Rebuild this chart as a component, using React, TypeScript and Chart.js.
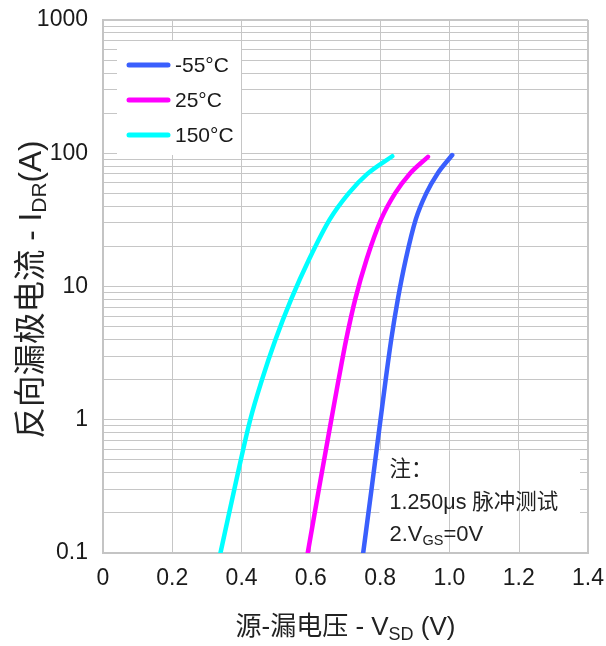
import React, { useEffect, useRef } from "react";
import { Chart, registerables } from "chart.js";

Chart.register(...registerables);

// ---------- data ----------
const seriesLabels = ["-55°C", "25°C", "150°C"];
const seriesColors = ["#3a5ffd", "#ff00ff", "#00ffff"];

const vM55 = [0.751, 0.775, 0.801, 0.816, 0.832, 0.851, 0.874, 0.903, 0.933, 0.965, 1.008];
const iM55 = [0.1, 0.3, 1, 2, 4, 8, 16, 32, 50, 70, 97];

const v25 = [0.591, 0.623, 0.659, 0.68, 0.702, 0.728, 0.761, 0.803, 0.843, 0.885, 0.938];
const i25 = [0.1, 0.3, 1, 2, 4, 8, 16, 32, 50, 70, 94];

const v150 = [0.339, 0.379, 0.425, 0.459, 0.498, 0.543, 0.595, 0.655, 0.709, 0.763, 0.835];
const i150 = [0.1, 0.3, 1, 2, 4, 8, 16, 32, 50, 70, 95];

const xTickValues = [0, 0.2, 0.4, 0.6, 0.8, 1.0, 1.2, 1.4];
const yDecades = [0.1, 1, 10, 100];
const yMinorSteps = [1, 2, 3, 4, 5, 6, 7, 8, 9];
const yMax = 1000;

const xTitleParts = ["源-漏电压 - V", "SD", " (V)"];
const yTitleParts = ["反向漏极电流 - I", "DR", "(A)"];
const noteLine1 = "注：";
const noteLine2 = "1.250μs 脉冲测试";
const noteLine3Parts = ["2.V", "GS", "=0V"];

// ---------- styles ----------
const FONT = '"Liberation Sans", Arial, "Noto Sans CJK SC", sans-serif';
const GRID = "#c6c6c6";
const TEXT = "#1a1a1a";

function drawSubText(
  ctx: CanvasRenderingContext2D,
  parts: string[],
  cx: number,
  y: number,
  size: number,
  subSize: number,
  subShift: number
) {
  const main = `${size}px ${FONT}`;
  const sub = `${subSize}px ${FONT}`;
  ctx.font = main;
  const w0 = ctx.measureText(parts[0]).width;
  const w2 = ctx.measureText(parts[2]).width;
  ctx.font = sub;
  const w1 = ctx.measureText(parts[1]).width;
  const total = w0 + w1 + w2;
  let x = cx - total / 2;
  ctx.textAlign = "left";
  ctx.textBaseline = "alphabetic";
  ctx.font = main;
  ctx.fillText(parts[0], x, y);
  x += w0;
  ctx.font = sub;
  ctx.fillText(parts[1], x, y + subShift);
  x += w1;
  ctx.font = main;
  ctx.fillText(parts[2], x, y);
}

function drawSubTextLeft(
  ctx: CanvasRenderingContext2D,
  parts: string[],
  x: number,
  y: number,
  size: number,
  subSize: number,
  subShift: number
) {
  const main = `${size}px ${FONT}`;
  const sub = `${subSize}px ${FONT}`;
  ctx.textAlign = "left";
  ctx.textBaseline = "alphabetic";
  ctx.font = main;
  ctx.fillText(parts[0], x, y);
  x += ctx.measureText(parts[0]).width;
  ctx.font = sub;
  ctx.fillText(parts[1], x, y + subShift);
  x += ctx.measureText(parts[1]).width;
  ctx.font = main;
  ctx.fillText(parts[2], x, y);
}

const overlayPlugin = {
  id: "overlay",
  beforeDatasetsDraw(chart: any) {
    const ctx: CanvasRenderingContext2D = chart.ctx;
    const a = chart.chartArea;
    const xs = chart.scales.x;
    const ys = chart.scales.y;
    ctx.save();
    // legend box
    ctx.fillStyle = "#ffffff";
    const lx = a.left + 14;
    const ly = a.top + 21;
    ctx.fillRect(lx, ly, 124, 114);
    // note box
    const nTop = ys.getPixelForValue(0.6) + 1;
    const nLeft = xs.getPixelForValue(0.798);
    ctx.fillRect(nLeft, nTop, a.right - 8 - nLeft, a.bottom - nTop - 1);
    // vertical grid lines over note box
    ctx.strokeStyle = GRID;
    ctx.lineWidth = 1;
    [1.0, 1.2].forEach((v) => {
      const x = Math.round(xs.getPixelForValue(v)) + 0.5;
      ctx.beginPath();
      ctx.moveTo(x, nTop);
      ctx.lineTo(x, a.bottom);
      ctx.stroke();
    });
    // legend entries
    ctx.lineCap = "round";
    ctx.lineWidth = 5;
    ctx.font = `21px ${FONT}`;
    ctx.textBaseline = "middle";
    ctx.textAlign = "left";
    seriesLabels.forEach((lab, i) => {
      const y = ly + 24 + i * 35;
      ctx.strokeStyle = seriesColors[i];
      ctx.beginPath();
      ctx.moveTo(lx + 12, y);
      ctx.lineTo(lx + 51, y);
      ctx.stroke();
      ctx.fillStyle = TEXT;
      ctx.fillText(lab, lx + 58, y + 1);
    });
    // note text
    ctx.fillStyle = "#222";
    ctx.font = `21.5px ${FONT}`;
    ctx.textBaseline = "middle";
    const tx = nLeft + 10;
    ctx.fillText(noteLine1, tx, nTop + 20);
    ctx.fillText(noteLine2, tx, nTop + 53);
    drawSubTextLeft(ctx, noteLine3Parts, tx, nTop + 91, 22, 14.5, 4);
    ctx.restore();
  },
  afterDraw(chart: any) {
    const ctx: CanvasRenderingContext2D = chart.ctx;
    const a = chart.chartArea;
    ctx.save();
    ctx.fillStyle = "#222";
    // x title
    drawSubText(ctx, xTitleParts, (a.left + a.right) / 2, 635, 26, 18, 5);
    // y title (rotated)
    ctx.translate(41, (a.top + a.bottom) / 2 + 3);
    ctx.rotate(-Math.PI / 2);
    drawSubText(ctx, yTitleParts, 0, 0, 31.5, 21, 5);
    ctx.restore();
  },
};

function buildDataset(label: string, color: string, xs: number[], ys: number[]) {
  return {
    label,
    data: xs.map((x, i) => ({ x, y: ys[i] })),
    borderColor: color,
    backgroundColor: color,
    borderWidth: 4.5,
    borderCapStyle: "round" as const,
    pointRadius: 0,
    cubicInterpolationMode: "monotone" as const,
    fill: false,
  };
}

export default function App() {
  const ref = useRef<HTMLCanvasElement | null>(null);

  useEffect(() => {
    if (!ref.current) return;
    const yTicks: number[] = [];
    yDecades.forEach((d) =>
      yMinorSteps.forEach((k) => yTicks.push(Number((k * d).toPrecision(3))))
    );
    yTicks.push(yMax);

    const chart = new Chart(ref.current, {
      type: "line",
      data: {
        datasets: [
          buildDataset(seriesLabels[0], seriesColors[0], vM55, iM55),
          buildDataset(seriesLabels[1], seriesColors[1], v25, i25),
          buildDataset(seriesLabels[2], seriesColors[2], v150, i150),
        ],
      },
      options: {
        responsive: false,
        animation: false,
        layout: { padding: { left: 0, right: 18, top: 20, bottom: 0 } },
        plugins: {
          legend: { display: false },
          tooltip: { enabled: false },
          title: { display: false },
        },
        scales: {
          x: {
            type: "linear",
            min: 0,
            max: 1.4,
            afterBuildTicks: (scale: any) => {
              scale.ticks = xTickValues.map((v) => ({ value: v }));
            },
            afterFit: (scale: any) => {
              scale.height = 93;
              scale.paddingLeft = 0;
              scale.paddingRight = 0;
            },
            ticks: {
              autoSkip: false,
              maxRotation: 0,
              padding: 12,
              color: TEXT,
              font: { family: FONT, size: 23 },
              callback: (v: any) => (Number(v) === 0 ? "0" : Number(v).toFixed(1)),
            },
            grid: {
              color: GRID,
              lineWidth: (c: any) => (c.tick && c.tick.value === 1.4 ? 2 : 1),
              drawTicks: false,
            },
            border: { color: "#c4c4c4", width: 2 },
          },
          y: {
            type: "logarithmic",
            min: 0.1,
            max: yMax,
            afterBuildTicks: (scale: any) => {
              scale.ticks = yTicks.map((v) => ({ value: v }));
            },
            afterFit: (scale: any) => {
              scale.width = 103;
              scale.paddingTop = 0;
              scale.paddingBottom = 0;
            },
            ticks: {
              autoSkip: false,
              padding: 15,
              color: TEXT,
              font: { family: FONT, size: 23 },
              callback: (v: any) => {
                const n = Number(v);
                const l = Math.log10(n);
                if (Math.abs(l - Math.round(l)) > 1e-9) return "";
                return n < 1 ? "0.1" : String(Math.round(n));
              },
            },
            grid: {
              color: GRID,
              lineWidth: (c: any) => (c.tick && c.tick.value === yMax ? 2 : 1),
              drawTicks: false,
            },
            border: { color: "#c4c4c4", width: 2 },
          },
        },
      },
      plugins: [overlayPlugin],
    });
    return () => chart.destroy();
  }, []);

  return (
    <div
      style={{
        position: "fixed",
        left: 0,
        top: 0,
        width: 606,
        height: 646,
        background: "#ffffff",
      }}
    >
      <canvas ref={ref} width={606} height={646} style={{ display: "block" }} />
    </div>
  );
}
